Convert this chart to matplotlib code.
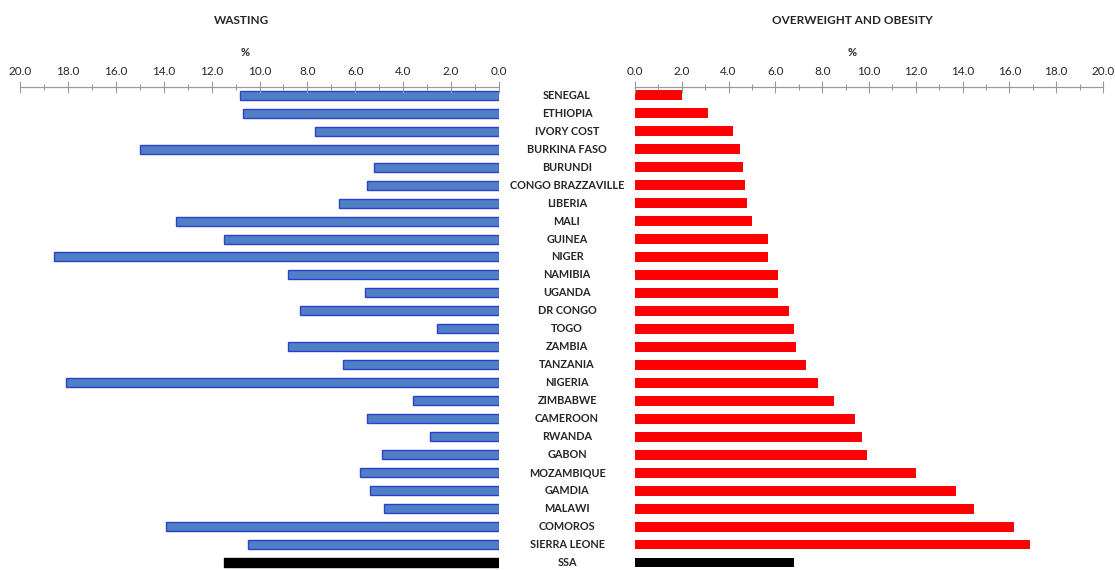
import matplotlib
matplotlib.use('Agg')
import matplotlib.pyplot as plt
from matplotlib.ticker import MultipleLocator, FormatStrFormatter
from matplotlib.transforms import blended_transform_factory

countries = ['SENEGAL', 'ETHIOPIA', 'IVORY COST', 'BURKINA FASO', 'BURUNDI',
             'CONGO BRAZZAVILLE', 'LIBERIA', 'MALI', 'GUINEA', 'NIGER',
             'NAMIBIA', 'UGANDA', 'DR CONGO', 'TOGO', 'ZAMBIA', 'TANZANIA',
             'NIGERIA', 'ZIMBABWE', 'CAMEROON', 'RWANDA', 'GABON',
             'MOZAMBIQUE', 'GAMDIA', 'MALAWI', 'COMOROS', 'SIERRA LEONE', 'SSA']

wasting = [10.8, 10.7, 7.7, 15.0, 5.2, 5.5, 6.7, 13.5, 11.5, 18.6,
           8.8, 5.6, 8.3, 2.6, 8.8, 6.5, 18.1, 3.6, 5.5, 2.9, 4.9,
           5.8, 5.4, 4.8, 13.9, 10.5, 11.5]

overweight = [2.0, 3.1, 4.2, 4.5, 4.6, 4.7, 4.8, 5.0, 5.7, 5.7,
              6.1, 6.1, 6.6, 6.8, 6.9, 7.3, 7.8, 8.5, 9.4, 9.7, 9.9,
              12.0, 13.7, 14.5, 16.2, 16.9, 6.8]

rows = list(range(len(countries)))
text_col = '#262626'
font = ['Lato', 'DejaVu Sans']
plt.rcParams['font.family'] = font

fig = plt.figure(figsize=(11.15, 5.70), dpi=100)
ax_l = fig.add_axes([20 / 1115, 0.0, 479 / 1115, 1 - 87 / 570])
ax_r = fig.add_axes([635 / 1115, 0.0, 468 / 1115, 1 - 87 / 570])

# colours: SSA (last row) in black
left_fc = ['#4f7fc4'] * (len(rows) - 1) + ['black']
left_ec = ['#2f3fd0'] * (len(rows) - 1) + ['black']
right_fc = ['#ff0000'] * (len(rows) - 1) + ['black']

ax_l.barh(rows, wasting, height=0.5, color=left_fc, edgecolor=left_ec, linewidth=1.0)
ax_r.barh(rows, overweight, height=0.52, color=right_fc, linewidth=0)

for ax in (ax_l, ax_r):
    ax.set_ylim(26.4, -0.45)
    ax.xaxis.tick_top()
    ax.xaxis.set_major_locator(MultipleLocator(2))
    ax.xaxis.set_minor_locator(MultipleLocator(1))
    ax.xaxis.set_major_formatter(FormatStrFormatter('%.1f'))
    ax.tick_params(axis='x', which='major', direction='inout', length=9,
                   width=0.8, color='#9a9a9a', labelsize=8.5, labelcolor=text_col, pad=3)
    ax.tick_params(axis='x', which='minor', direction='inout', length=5,
                   width=0.8, color='#9a9a9a')
    ax.set_yticks([])
    for side in ('left', 'right', 'bottom'):
        ax.spines[side].set_visible(False)
    ax.spines['top'].set_color('#9a9a9a')
    ax.spines['top'].set_linewidth(0.9)

ax_l.set_xlim(20, 0)
ax_r.set_xlim(0, 20)

# titles and "%" sit a little left of the axis centre, as in the source
ax_l.text(0.463, 1 + (87 - 20) / 483, 'WASTING', transform=ax_l.transAxes,
          ha='center', va='center', fontsize=8.5, fontweight='bold', color=text_col)
ax_r.text(0.464, 1 + (87 - 20) / 483, 'OVERWEIGHT AND OBESITY', transform=ax_r.transAxes,
          ha='center', va='center', fontsize=8.5, fontweight='bold', color=text_col)
ax_l.text(0.47, 1 + (87 - 53) / 483, '%', transform=ax_l.transAxes,
          ha='center', va='center', fontsize=8, fontweight='bold', color=text_col)
ax_r.text(0.464, 1 + (87 - 53) / 483, '%', transform=ax_r.transAxes,
          ha='center', va='center', fontsize=8, fontweight='bold', color=text_col)

# country names in the gap between the two panels
trans = blended_transform_factory(fig.transFigure, ax_l.transData)
for r, name in zip(rows, countries):
    ax_l.text(567 / 1115, r, name, transform=trans, ha='center', va='center',
              fontsize=7.8, fontweight='bold', color=text_col, clip_on=False)

fig.savefig('out.png', dpi=100, facecolor='white')
